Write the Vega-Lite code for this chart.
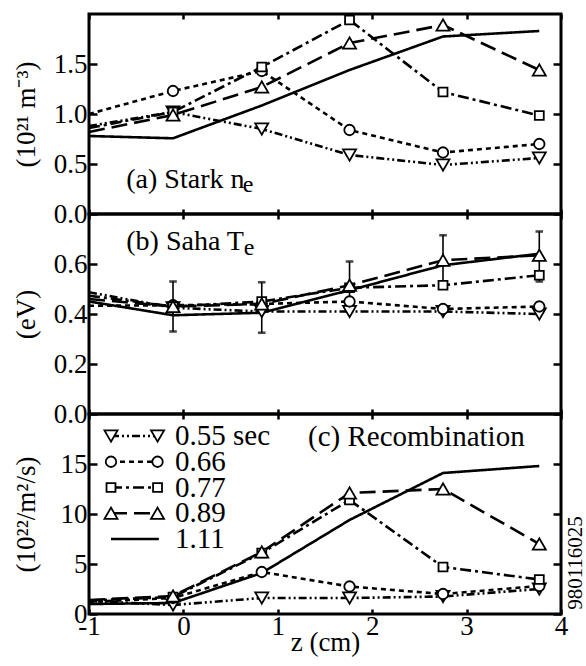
{
  "$schema": "https://vega.github.io/schema/vega-lite/v6.json",
  "padding": {"left": 10, "top": 10, "right": 0, "bottom": 0},
  "bounds": "flush",
  "datasets": {
    "stark": [
      {"t": "0.55", "z": -1, "v": 0.88}, {"t": "0.55", "z": -0.11, "v": 1.02}, {"t": "0.55", "z": 0.83, "v": 0.85}, {"t": "0.55", "z": 1.76, "v": 0.59}, {"t": "0.55", "z": 2.75, "v": 0.49}, {"t": "0.55", "z": 3.77, "v": 0.56},
      {"t": "0.66", "z": -1, "v": 1.0}, {"t": "0.66", "z": -0.11, "v": 1.23}, {"t": "0.66", "z": 0.83, "v": 1.43}, {"t": "0.66", "z": 1.76, "v": 0.84}, {"t": "0.66", "z": 2.75, "v": 0.615}, {"t": "0.66", "z": 3.77, "v": 0.7},
      {"t": "0.77", "z": -1, "v": 0.86}, {"t": "0.77", "z": -0.11, "v": 1.02}, {"t": "0.77", "z": 0.83, "v": 1.47}, {"t": "0.77", "z": 1.76, "v": 1.94}, {"t": "0.77", "z": 2.75, "v": 1.22}, {"t": "0.77", "z": 3.77, "v": 0.985},
      {"t": "0.89", "z": -1, "v": 0.82}, {"t": "0.89", "z": -0.11, "v": 0.99}, {"t": "0.89", "z": 0.83, "v": 1.27}, {"t": "0.89", "z": 1.76, "v": 1.71}, {"t": "0.89", "z": 2.75, "v": 1.89}, {"t": "0.89", "z": 3.77, "v": 1.44},
      {"t": "1.11", "z": -1, "v": 0.78}, {"t": "1.11", "z": -0.11, "v": 0.757}, {"t": "1.11", "z": 0.83, "v": 1.085}, {"t": "1.11", "z": 1.76, "v": 1.44}, {"t": "1.11", "z": 2.75, "v": 1.775}, {"t": "1.11", "z": 3.77, "v": 1.83}
    ],
    "saha": [
      {"t": "0.55", "z": -1, "v": 0.487}, {"t": "0.55", "z": -0.11, "v": 0.425}, {"t": "0.55", "z": 0.83, "v": 0.41}, {"t": "0.55", "z": 1.76, "v": 0.41}, {"t": "0.55", "z": 2.75, "v": 0.41}, {"t": "0.55", "z": 3.77, "v": 0.4},
      {"t": "0.66", "z": -1, "v": 0.433}, {"t": "0.66", "z": -0.11, "v": 0.435}, {"t": "0.66", "z": 0.83, "v": 0.44}, {"t": "0.66", "z": 1.76, "v": 0.45}, {"t": "0.66", "z": 2.75, "v": 0.42}, {"t": "0.66", "z": 3.77, "v": 0.43},
      {"t": "0.77", "z": -1, "v": 0.473}, {"t": "0.77", "z": -0.11, "v": 0.43}, {"t": "0.77", "z": 0.83, "v": 0.45}, {"t": "0.77", "z": 1.76, "v": 0.505}, {"t": "0.77", "z": 2.75, "v": 0.515}, {"t": "0.77", "z": 3.77, "v": 0.555},
      {"t": "0.89", "z": -1, "v": 0.46}, {"t": "0.89", "z": -0.11, "v": 0.43}, {"t": "0.89", "z": 0.83, "v": 0.44}, {"t": "0.89", "z": 1.76, "v": 0.515}, {"t": "0.89", "z": 2.75, "v": 0.615}, {"t": "0.89", "z": 3.77, "v": 0.635},
      {"t": "1.11", "z": -1, "v": 0.45}, {"t": "1.11", "z": -0.11, "v": 0.395}, {"t": "1.11", "z": 0.83, "v": 0.405}, {"t": "1.11", "z": 1.76, "v": 0.495}, {"t": "1.11", "z": 2.75, "v": 0.595}, {"t": "1.11", "z": 3.77, "v": 0.641}
    ],
    "saha_err": [
      {"z": -0.11, "lo": 0.33, "hi": 0.53},
      {"z": 0.83, "lo": 0.325, "hi": 0.527},
      {"z": 1.76, "lo": 0.41, "hi": 0.61},
      {"z": 2.75, "lo": 0.51, "hi": 0.715},
      {"z": 3.77, "lo": 0.53, "hi": 0.73}
    ],
    "recomb": [
      {"t": "0.55", "z": -1, "v": 1.3}, {"t": "0.55", "z": -0.11, "v": 0.9}, {"t": "0.55", "z": 0.83, "v": 1.6}, {"t": "0.55", "z": 1.76, "v": 1.6}, {"t": "0.55", "z": 2.75, "v": 1.75}, {"t": "0.55", "z": 3.77, "v": 2.5},
      {"t": "0.66", "z": -1, "v": 1.2}, {"t": "0.66", "z": -0.11, "v": 1.6}, {"t": "0.66", "z": 0.83, "v": 4.2}, {"t": "0.66", "z": 1.76, "v": 2.75}, {"t": "0.66", "z": 2.75, "v": 2.0}, {"t": "0.66", "z": 3.77, "v": 2.8},
      {"t": "0.77", "z": -1, "v": 1.35}, {"t": "0.77", "z": -0.11, "v": 1.7}, {"t": "0.77", "z": 0.83, "v": 6.1}, {"t": "0.77", "z": 1.76, "v": 11.4}, {"t": "0.77", "z": 2.75, "v": 4.7}, {"t": "0.77", "z": 3.77, "v": 3.45},
      {"t": "0.89", "z": -1, "v": 1.4}, {"t": "0.89", "z": -0.11, "v": 1.8}, {"t": "0.89", "z": 0.83, "v": 6.2}, {"t": "0.89", "z": 1.76, "v": 12.1}, {"t": "0.89", "z": 2.75, "v": 12.5}, {"t": "0.89", "z": 3.77, "v": 7.0},
      {"t": "1.11", "z": -1, "v": 1.0}, {"t": "1.11", "z": -0.11, "v": 1.1}, {"t": "1.11", "z": 0.83, "v": 4.1}, {"t": "1.11", "z": 1.76, "v": 9.4}, {"t": "1.11", "z": 2.75, "v": 14.1}, {"t": "1.11", "z": 3.77, "v": 14.8}
    ],
    "key": [
      {"t": "0.55", "label": "0.55 sec"},
      {"t": "0.66", "label": "0.66"},
      {"t": "0.77", "label": "0.77"},
      {"t": "0.89", "label": "0.89"},
      {"t": "1.11", "label": "1.11"}
    ],
    "one": [{}]
  },
  "spacing": 0,
  "vconcat": [
    {
      "width": 472,
      "height": 200,
      "layer": [
        {
          "data": {"name": "stark"},
          "mark": {"type": "line", "stroke": "black", "strokeWidth": 2.6},
          "encoding": {
            "x": {"field": "z", "type": "quantitative", "scale": {"domain": [-1, 4], "nice": false, "zero": false},
                  "axis": {"orient": "bottom", "values": [-1, 0, 1, 2, 3, 4], "labels": false, "tickSize": -5, "title": null}},
            "y": {"field": "v", "type": "quantitative", "scale": {"domain": [0, 2], "nice": false, "zero": false},
                  "axis": {"orient": "left", "values": [0, 0.5, 1, 1.5], "format": ".1f", "tickSize": -8, "labelPadding": 10, "title": "(10²¹ m⁻³)", "titleX": -49}},
            "strokeDash": {"field": "t", "type": "nominal",
                           "scale": {"domain": ["0.55", "0.66", "0.77", "0.89", "1.11"], "range": [[8, 3, 2, 3, 2, 3], [5, 4], [11, 4, 3, 4], [16, 7], [1, 0]]},
                           "legend": null}
          }
        },
        {
          "data": {"name": "stark"},
          "transform": [{"filter": "datum.z > -1 && datum.t !== '1.11'"}],
          "mark": {"type": "point", "filled": true, "fill": "white", "stroke": "black", "strokeWidth": 1.8, "opacity": 1},
          "encoding": {
            "x": {"field": "z", "type": "quantitative", "scale": {"domain": [-1, 4], "nice": false, "zero": false},
                  "axis": {"orient": "top", "values": [-1, 0, 1, 2, 3, 4], "labels": false, "tickSize": -5, "title": null}},
            "y": {"field": "v", "type": "quantitative", "scale": {"domain": [0, 2], "nice": false, "zero": false},
                  "axis": {"orient": "right", "values": [0, 0.5, 1, 1.5], "labels": false, "tickSize": -8, "title": null}},
            "shape": {"field": "t", "type": "nominal", "scale": {"domain": ["0.55", "0.66", "0.77", "0.89"], "range": ["triangle-down", "circle", "square", "triangle-up"]}, "legend": null},
            "size": {"field": "t", "type": "nominal", "scale": {"type": "ordinal", "domain": ["0.55", "0.66", "0.77", "0.89"], "range": [170, 110, 80, 170]}, "legend": null}
          }
        },
        {
          "data": {"name": "one"},
          "mark": {"type": "text", "text": "(a) Stark n", "align": "left", "baseline": "alphabetic", "fontSize": 28, "font": "Liberation Serif", "color": "black"},
          "encoding": {
            "x": {"datum": -0.605, "type": "quantitative", "scale": {"domain": [-1, 4]}, "axis": null},
            "y": {"datum": 0.262, "type": "quantitative", "scale": {"domain": [0, 2]}, "axis": null}
          }
        },
        {
          "data": {"name": "one"},
          "mark": {"type": "text", "text": "e", "align": "left", "baseline": "alphabetic", "fontSize": 24, "dy": 4, "font": "Liberation Serif", "color": "black"},
          "encoding": {
            "x": {"datum": 0.63, "type": "quantitative", "scale": {"domain": [-1, 4]}, "axis": null},
            "y": {"datum": 0.262, "type": "quantitative", "scale": {"domain": [0, 2]}, "axis": null}
          }
        }
      ],
      "resolve": {"axis": {"x": "independent", "y": "independent"}}
    },
    {
      "width": 472,
      "height": 200,
      "layer": [
        {
          "data": {"name": "saha"},
          "mark": {"type": "line", "stroke": "black", "strokeWidth": 2.6},
          "encoding": {
            "x": {"field": "z", "type": "quantitative", "scale": {"domain": [-1, 4], "nice": false, "zero": false},
                  "axis": {"orient": "bottom", "values": [-1, 0, 1, 2, 3, 4], "labels": false, "tickSize": -5, "title": null}},
            "y": {"field": "v", "type": "quantitative", "scale": {"domain": [0, 0.8], "nice": false, "zero": false},
                  "axis": {"orient": "left", "values": [0, 0.2, 0.4, 0.6], "format": ".1f", "tickSize": -8, "labelPadding": 10, "title": "(eV)", "titleX": -49}},
            "strokeDash": {"field": "t", "type": "nominal",
                           "scale": {"domain": ["0.55", "0.66", "0.77", "0.89", "1.11"], "range": [[8, 3, 2, 3, 2, 3], [5, 4], [11, 4, 3, 4], [16, 7], [1, 0]]},
                           "legend": null}
          }
        },
        {
          "data": {"name": "saha_err"},
          "mark": {"type": "errorbar", "ticks": {"size": 6, "stroke": "black", "strokeWidth": 1.6}, "rule": {"stroke": "black", "strokeWidth": 1.6}},
          "encoding": {
            "x": {"field": "z", "type": "quantitative", "scale": {"domain": [-1, 4]}, "axis": null},
            "y": {"field": "lo", "type": "quantitative", "scale": {"domain": [0, 0.8]}, "axis": null},
            "y2": {"field": "hi"}
          }
        },
        {
          "data": {"name": "saha"},
          "transform": [{"filter": "datum.z > -1 && datum.t !== '1.11'"}],
          "mark": {"type": "point", "filled": true, "fill": "white", "stroke": "black", "strokeWidth": 1.8, "opacity": 1},
          "encoding": {
            "x": {"field": "z", "type": "quantitative", "scale": {"domain": [-1, 4], "nice": false, "zero": false},
                  "axis": {"orient": "top", "values": [-1, 0, 1, 2, 3, 4], "labels": false, "tickSize": -5, "title": null}},
            "y": {"field": "v", "type": "quantitative", "scale": {"domain": [0, 0.8], "nice": false, "zero": false},
                  "axis": {"orient": "right", "values": [0, 0.2, 0.4, 0.6], "labels": false, "tickSize": -8, "title": null}},
            "shape": {"field": "t", "type": "nominal", "scale": {"domain": ["0.55", "0.66", "0.77", "0.89"], "range": ["triangle-down", "circle", "square", "triangle-up"]}, "legend": null},
            "size": {"field": "t", "type": "nominal", "scale": {"type": "ordinal", "domain": ["0.55", "0.66", "0.77", "0.89"], "range": [170, 110, 80, 170]}, "legend": null}
          }
        },
        {
          "data": {"name": "one"},
          "mark": {"type": "text", "text": "(b) Saha T", "align": "left", "baseline": "alphabetic", "fontSize": 28, "font": "Liberation Serif", "color": "black"},
          "encoding": {
            "x": {"datum": -0.605, "type": "quantitative", "scale": {"domain": [-1, 4]}, "axis": null},
            "y": {"datum": 0.655, "type": "quantitative", "scale": {"domain": [0, 0.8]}, "axis": null}
          }
        },
        {
          "data": {"name": "one"},
          "mark": {"type": "text", "text": "e", "align": "left", "baseline": "alphabetic", "fontSize": 24, "dy": 5, "font": "Liberation Serif", "color": "black"},
          "encoding": {
            "x": {"datum": 0.64, "type": "quantitative", "scale": {"domain": [-1, 4]}, "axis": null},
            "y": {"datum": 0.655, "type": "quantitative", "scale": {"domain": [0, 0.8]}, "axis": null}
          }
        }
      ],
      "resolve": {"axis": {"x": "independent", "y": "independent"}}
    },
    {
      "width": 472,
      "height": 200,
      "layer": [
        {
          "data": {"name": "recomb"},
          "mark": {"type": "line", "stroke": "black", "strokeWidth": 2.6},
          "encoding": {
            "x": {"field": "z", "type": "quantitative", "scale": {"domain": [-1, 4], "nice": false, "zero": false},
                  "axis": {"orient": "bottom", "values": [-1, 0, 1, 2, 3, 4], "tickSize": -5, "labelPadding": 4, "labelExpr": "replace(datum.label, '−', '-')", "title": "z (cm)", "titlePadding": -10}},
            "y": {"field": "v", "type": "quantitative", "scale": {"domain": [0, 20], "nice": false, "zero": false},
                  "axis": {"orient": "left", "values": [0, 5, 10, 15], "format": "d", "tickSize": -8, "labelPadding": 10, "title": "(10²²/m²/s)", "titleX": -49}},
            "strokeDash": {"field": "t", "type": "nominal",
                           "scale": {"domain": ["0.55", "0.66", "0.77", "0.89", "1.11"], "range": [[8, 3, 2, 3, 2, 3], [5, 4], [11, 4, 3, 4], [16, 7], [1, 0]]},
                           "legend": null}
          }
        },
        {
          "data": {"name": "recomb"},
          "transform": [{"filter": "datum.z > -1 && datum.t !== '1.11'"}],
          "mark": {"type": "point", "filled": true, "fill": "white", "stroke": "black", "strokeWidth": 1.8, "opacity": 1},
          "encoding": {
            "x": {"field": "z", "type": "quantitative", "scale": {"domain": [-1, 4], "nice": false, "zero": false},
                  "axis": {"orient": "top", "values": [-1, 0, 1, 2, 3, 4], "labels": false, "tickSize": -5, "title": null}},
            "y": {"field": "v", "type": "quantitative", "scale": {"domain": [0, 20], "nice": false, "zero": false},
                  "axis": {"orient": "right", "values": [0, 5, 10, 15], "labels": false, "tickSize": -8, "title": null}},
            "shape": {"field": "t", "type": "nominal", "scale": {"domain": ["0.55", "0.66", "0.77", "0.89"], "range": ["triangle-down", "circle", "square", "triangle-up"]}, "legend": null},
            "size": {"field": "t", "type": "nominal", "scale": {"type": "ordinal", "domain": ["0.55", "0.66", "0.77", "0.89"], "range": [170, 110, 80, 170]}, "legend": null}
          }
        },
        {
          "data": {"name": "one"},
          "mark": {"type": "text", "text": "(c) Recombination", "align": "left", "baseline": "alphabetic", "fontSize": 29, "font": "Liberation Serif", "color": "black"},
          "encoding": {
            "x": {"datum": 1.32, "type": "quantitative", "scale": {"domain": [-1, 4]}, "axis": null},
            "y": {"datum": 16.77, "type": "quantitative", "scale": {"domain": [0, 20]}, "axis": null}
          }
        },
        {
          "data": {"name": "one"},
          "mark": {"type": "text", "text": "980116025", "align": "center", "baseline": "middle", "angle": 270, "fontSize": 21, "font": "Liberation Serif", "color": "black"},
          "encoding": {
            "x": {"datum": 4.16, "type": "quantitative", "scale": {"domain": [-1, 4]}, "axis": null},
            "y": {"datum": 5.1, "type": "quantitative", "scale": {"domain": [0, 20]}, "axis": null}
          }
        },
        {
          "data": {"name": "key"},
          "encoding": {
            "y": {"field": "t", "type": "nominal", "scale": {"type": "point", "domain": ["0.55", "0.66", "0.77", "0.89", "1.11"], "range": [22, 125], "padding": 0}, "axis": null}
          },
          "layer": [
            {
              "mark": {"type": "rule", "stroke": "black", "strokeWidth": 2.4},
              "encoding": {
                "x": {"datum": -0.767, "type": "quantitative", "scale": {"domain": [-1, 4]}, "axis": null},
                "x2": {"datum": -0.26},
                "strokeDash": {"field": "t", "type": "nominal",
                               "scale": {"domain": ["0.55", "0.66", "0.77", "0.89", "1.11"], "range": [[8, 3, 2, 3, 2, 3], [5, 4], [11, 4, 3, 4], [16, 7], [1, 0]]},
                               "legend": null}
              }
            },
            {
              "transform": [{"filter": "datum.t !== '1.11'"}],
              "mark": {"type": "point", "filled": true, "fill": "white", "stroke": "black", "strokeWidth": 1.8, "opacity": 1},
              "encoding": {
                "x": {"datum": -0.767, "type": "quantitative", "scale": {"domain": [-1, 4]}, "axis": null},
                "shape": {"field": "t", "type": "nominal", "scale": {"domain": ["0.55", "0.66", "0.77", "0.89"], "range": ["triangle-down", "circle", "square", "triangle-up"]}, "legend": null},
                "size": {"field": "t", "type": "nominal", "scale": {"type": "ordinal", "domain": ["0.55", "0.66", "0.77", "0.89"], "range": [170, 110, 80, 170]}, "legend": null}
              }
            },
            {
              "transform": [{"filter": "datum.t !== '1.11'"}],
              "mark": {"type": "point", "filled": true, "fill": "white", "stroke": "black", "strokeWidth": 1.8, "opacity": 1},
              "encoding": {
                "x": {"datum": -0.274, "type": "quantitative", "scale": {"domain": [-1, 4]}, "axis": null},
                "shape": {"field": "t", "type": "nominal", "scale": {"domain": ["0.55", "0.66", "0.77", "0.89"], "range": ["triangle-down", "circle", "square", "triangle-up"]}, "legend": null},
                "size": {"field": "t", "type": "nominal", "scale": {"type": "ordinal", "domain": ["0.55", "0.66", "0.77", "0.89"], "range": [170, 110, 80, 170]}, "legend": null}
              }
            },
            {
              "mark": {"type": "text", "align": "left", "baseline": "middle", "fontSize": 29, "font": "Liberation Serif", "color": "black"},
              "encoding": {
                "x": {"datum": -0.089, "type": "quantitative", "scale": {"domain": [-1, 4]}, "axis": null},
                "text": {"field": "label", "type": "nominal"}
              }
            }
          ]
        }
      ],
      "resolve": {"axis": {"x": "independent", "y": "independent"}, "scale": {"y": "independent"}}
    }
  ],
  "config": {
    "view": {"stroke": "black", "strokeWidth": 3},
    "axis": {
      "labelFont": "Liberation Serif", "labelFontSize": 27, "labelColor": "black",
      "titleFont": "Liberation Serif", "titleFontSize": 27, "titleFontWeight": "normal", "titleColor": "black",
      "tickColor": "black", "tickWidth": 2.5, "domain": false, "grid": false,
      "labelFlush": false, "labelOverlap": false
    },
    "text": {"font": "Liberation Serif"}
  }
}
